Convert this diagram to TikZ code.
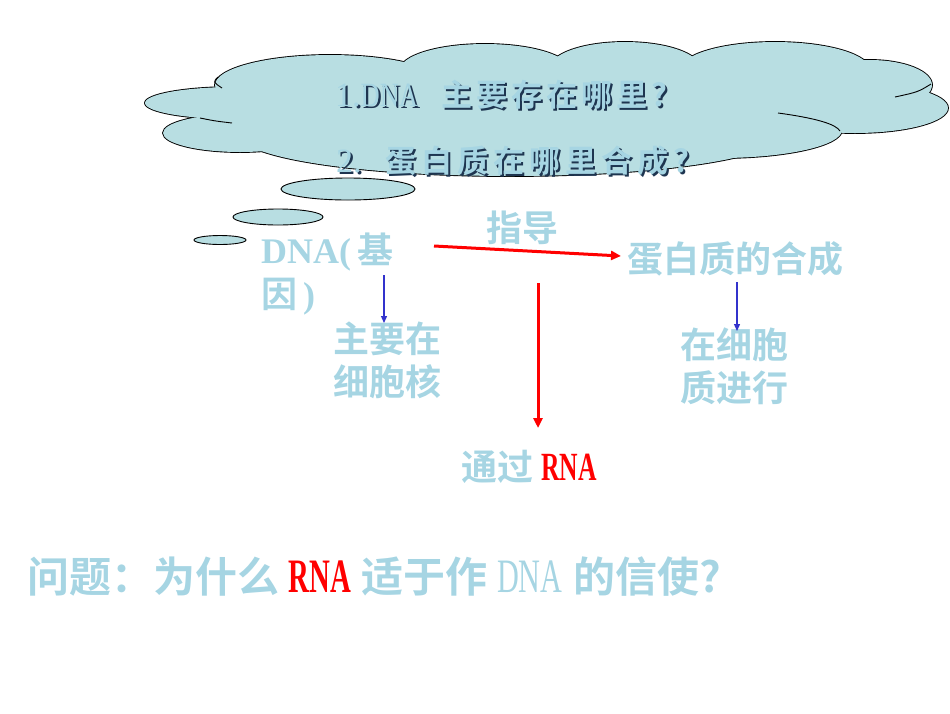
\documentclass[tikz,border=0pt]{standalone}
\usepackage{fontspec}
\setmainfont{Liberation Serif}
\newfontfamily\cjk{Noto Sans CJK SC}[BoldFont={Noto Sans CJK SC Bold}]
\usetikzlibrary{arrows.meta}
\definecolor{lb}{HTML}{A6D5E3}
\definecolor{cloudfill}{HTML}{B8DEE2}
\definecolor{shadowc}{HTML}{1E3550}
\definecolor{arrblue}{HTML}{3333CC}
\newcommand\shtext[1]{\makebox[0pt][l]{\hspace{2.2pt}\raisebox{-2.2pt}{\color{shadowc}#1}}{\color{lb}#1}}
\newcommand\cb[2]{\makebox[#1][l]{#2}}
\tikzset{
  txt/.style={inner sep=0pt, text=lb, font=\fontsize{36}{43}\selectfont},
  redarr/.style={draw=red, line width=3pt, -{Triangle[length=10pt,width=9pt]}},
  bluearr/.style={draw=arrblue, line width=1.3pt, -{Triangle[length=7pt,width=6pt]}},
  cloudtxt/.style={inner sep=0pt, anchor=west, font=\fontsize{31}{36}\selectfont},
  inline/.style={line width=0.9pt},
}
\begin{document}
\begin{tikzpicture}[x=1pt,y=-1pt]
\useasboundingbox (0,0) rectangle (950,713);
% cloud: outline pass then fill pass
\def\lobes{330/85/115/30, 235/103/90/16, 240/133/77/19, 510/135/270/41, 485/70/85/26, 625/68/75/26, 775/70/95/28, 870/85/62/25, 855/108/93/25, 720/130/122/28, 560/110/280/50}
\foreach \cx/\cy/\rx/\ry in \lobes{
  \draw[line width=1.8pt] (\cx,\cy) ellipse [x radius=\rx, y radius=\ry];
}
\foreach \cx/\cy/\rx/\ry in \lobes{
  \fill[cloudfill] (\cx,\cy) ellipse [x radius=\rx, y radius=\ry];
}
% inner cloud lines
\draw[inline] (218,77) .. controls (213,82) .. (222,88);
\draw[inline] (200,118) .. controls (215,121) .. (232,123);
\draw[inline] (931,84) .. controls (918,92) .. (895,97);
\draw[inline] (778,113) .. controls (815,118) and (836,124) .. (840,131);
% thought bubbles
\draw[fill=cloudfill, line width=0.9pt] (348,189) ellipse [x radius=67, y radius=11];
\draw[fill=cloudfill, line width=0.9pt] (278,217) ellipse [x radius=45, y radius=8];
\draw[fill=cloudfill, line width=0.9pt] (220,240) ellipse [x radius=26, y radius=4.5];
% cloud text with shadow
\node[cloudtxt] (q1) at (335,96) {\shtext{\makebox[106pt][l]{\fontsize{34}{36}\selectfont 1.\scalebox{0.78}[1]{DNA}}\cjk\bfseries\cb{35pt}{主}\cb{35pt}{要}\cb{35pt}{存}\cb{35pt}{在}\cb{35pt}{哪}\cb{35pt}{里}?}};
\node[cloudtxt] (q2) at (336,162) {\shtext{\makebox[49pt][l]{\fontsize{34}{36}\selectfont 2.}\cjk\bfseries\cb{36pt}{蛋}\cb{36pt}{白}\cb{36pt}{质}\cb{36pt}{在}\cb{36pt}{哪}\cb{36pt}{里}\cb{36pt}{合}\cb{36pt}{成}?}};
% diagram text
\node[txt, anchor=west] (dna) at (261,252) {\bfseries DNA(\,\cjk 基};
\node[txt, anchor=west] (yin) at (261,297) {\bfseries\cjk 因\,\rmfamily)};
\node[txt, anchor=west] (zhidao) at (486,228) {\bfseries\cjk 指导};
\node[txt, anchor=west] (prot) at (627,259) {\bfseries\cjk 蛋白质的合成};
\node[txt, anchor=north west, align=left] (nuc) at (333,322) {\bfseries\cjk 主要在\\\bfseries\cjk 细胞核};
\node[txt, anchor=north west, align=left] (cyto) at (680,328) {\bfseries\cjk 在细胞\\\bfseries\cjk 质进行};
\node[txt, anchor=west] (rna) at (461,467) {\bfseries\cjk 通过 \rmfamily\textcolor{red}{\fontsize{40}{40}\selectfont\scalebox{0.64}[1]{RNA}}};
\node[inner sep=0pt, anchor=west, text=lb, font=\fontsize{42}{48}\selectfont] (question) at (27,577)
  {\bfseries\cjk 问题：为什么 \rmfamily\textcolor{red}{\fontsize{48}{48}\selectfont\scalebox{0.6}[1]{RNA}} \cjk 适于作 \rmfamily\mdseries{\fontsize{48}{48}\selectfont\scalebox{0.63}[1]{DNA}} \bfseries\cjk 的信使?};
% arrows
\coordinate (a1) at (434,246);
\coordinate (a1e) at (621,256);
\draw[redarr] (a1) -- (a1e);
\coordinate (b1) at (384,275);
\coordinate (b1e) at (384,323);
\draw[bluearr] (b1) -- (b1e);
\coordinate (b2) at (737,282);
\coordinate (b2e) at (737,331);
\draw[bluearr] (b2) -- (b2e);
\coordinate (r2) at (538,283);
\coordinate (r2e) at (538,428);
\draw[redarr] (r2) -- (r2e);
\end{tikzpicture}
\end{document}
